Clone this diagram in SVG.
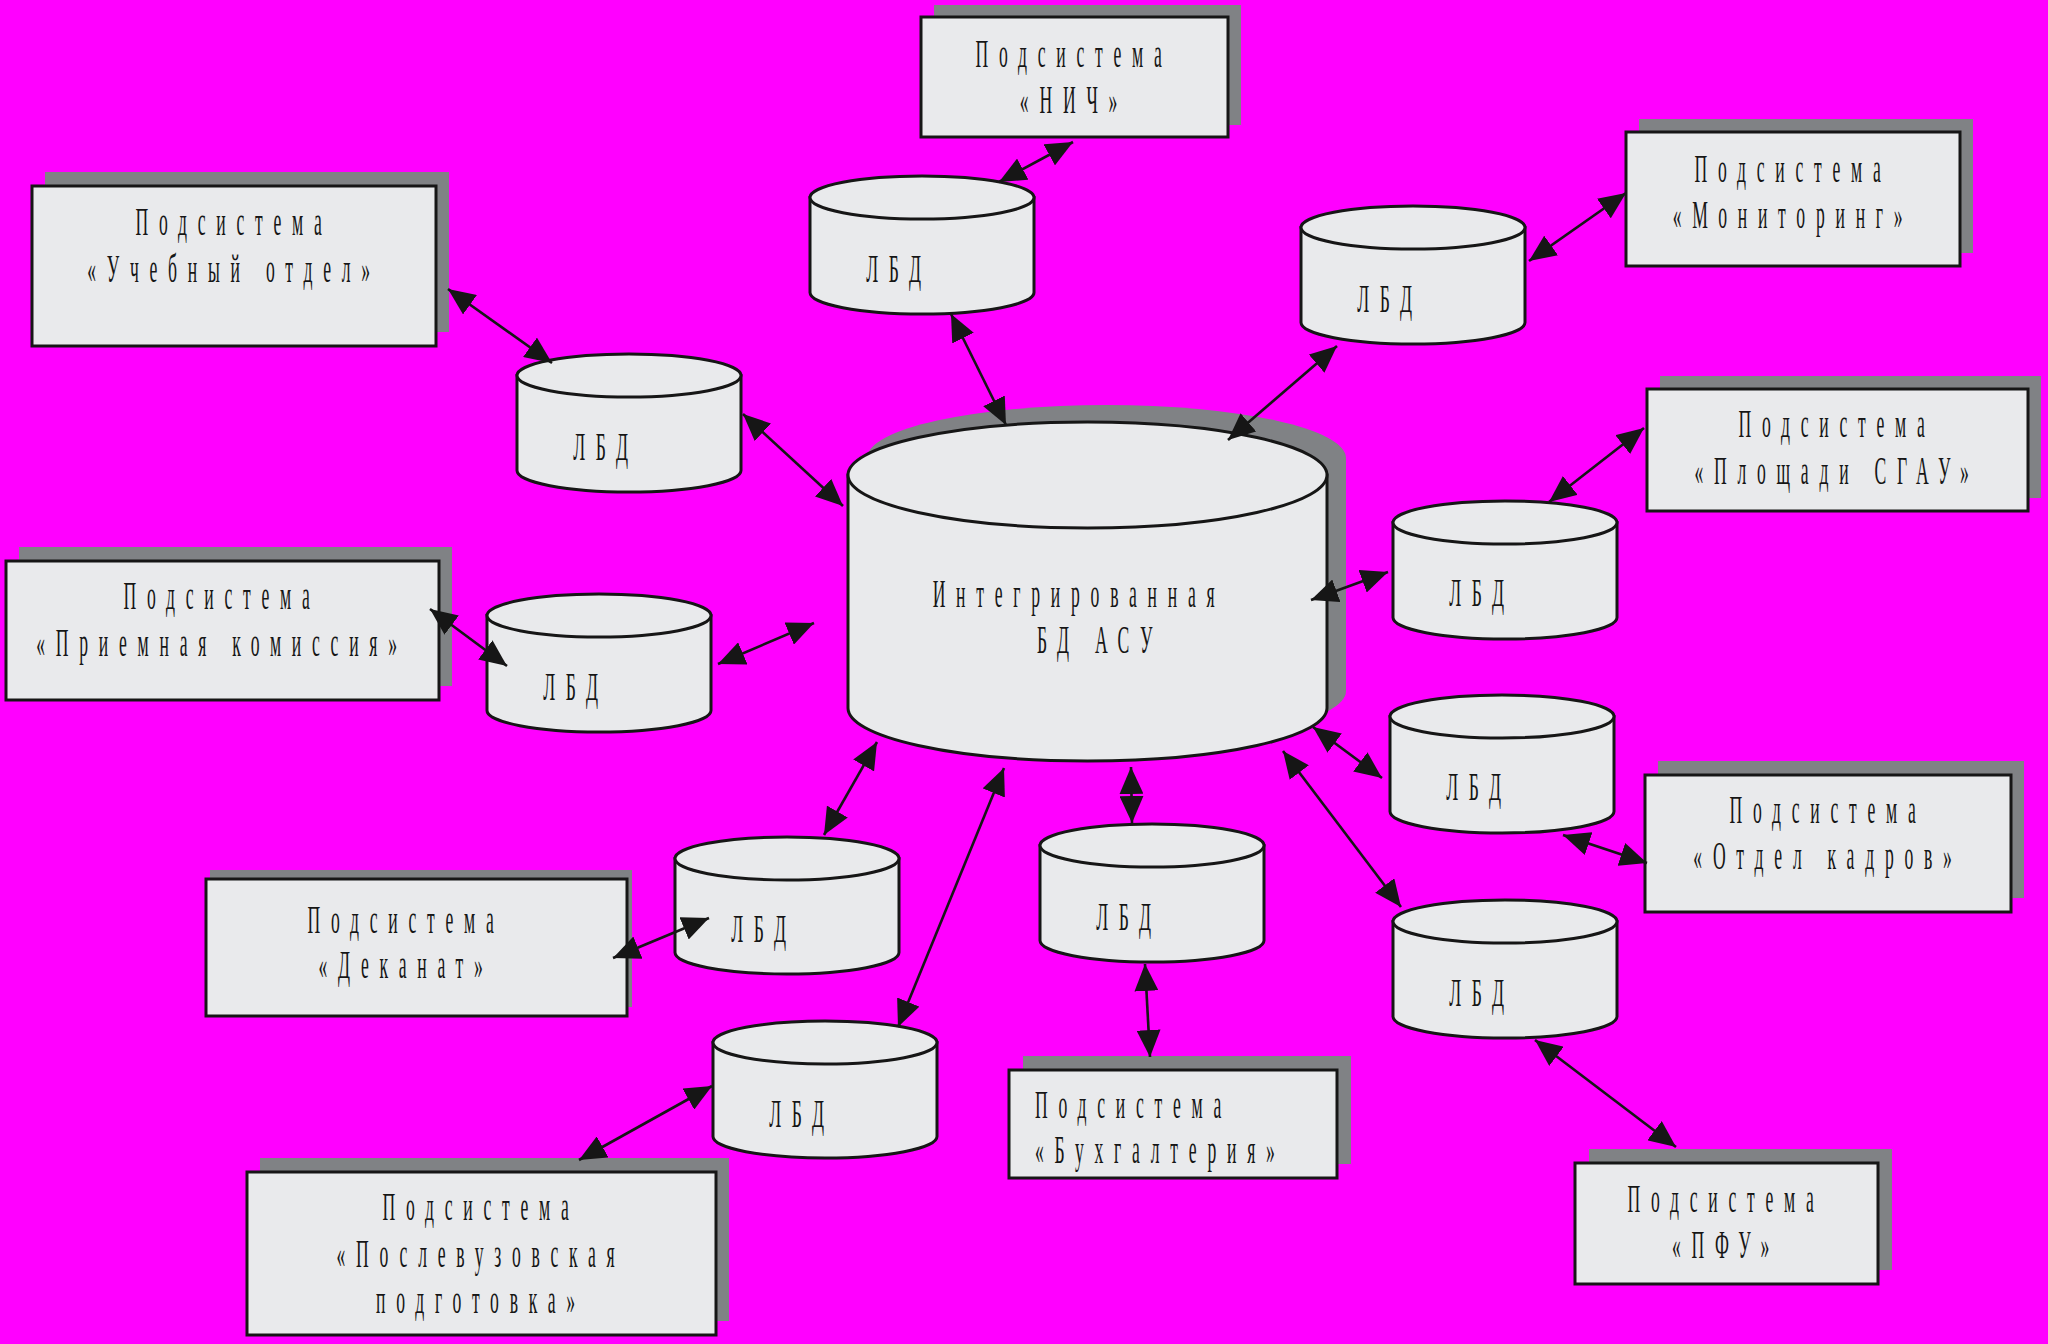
<svg xmlns="http://www.w3.org/2000/svg" width="2048" height="1344" viewBox="0 0 2048 1344">
<style>
.bg{fill:#FF00FF}
.sh{fill:#808285;stroke:none}
.bx{fill:#E9EAEC;stroke:#161616;stroke-width:3}
.cy{fill:#E9EAEC;stroke:#161616;stroke-width:3}
.t{font-family:"Liberation Serif","DejaVu Serif",serif;font-size:41px;letter-spacing:25px;fill:#161616;text-anchor:middle}
.ts{text-anchor:start}
.ln{stroke:#161616;stroke-width:2.6;fill:none;marker-start:url(#ah);marker-end:url(#ah)}
</style>
<defs>
<marker id="ah" viewBox="0 0 27 24" refX="27" refY="12" markerWidth="27" markerHeight="24" markerUnits="userSpaceOnUse" orient="auto-start-reverse">
<path d="M0,0 L27,12 L0,24 Z" fill="#161616"/>
</marker>
</defs>
<rect class="bg" x="0" y="0" width="2048" height="1344"/>

<g id="central">
<path class="sh" d="M867,458 V691 A239.5,53 0 0 0 1346,691 V458 A239.5,53 0 0 0 867,458 Z"/>
<path class="cy" d="M848,475 V708 A239.5,53 0 0 0 1327,708 V475 Z"/>
<ellipse class="cy" cx="1087.5" cy="475" rx="239.5" ry="53"/>
<text class="t" transform="translate(1079,607) scale(0.43,1)">Интегрированная</text>
<text class="t" transform="translate(1100,653) scale(0.43,1)">БД АСУ</text>
</g>

<g id="cyl-a">
<path class="cy" d="M810,197.5 V292.5 A112,21.5 0 0 0 1034,292.5 V197.5 Z"/>
<ellipse class="cy" cx="922" cy="197.5" rx="112" ry="21.5"/>
<text class="t" transform="translate(899,282) scale(0.43,1)">ЛБД</text>
</g>
<g id="cyl-b">
<path class="cy" d="M517,375.5 V470.5 A112,21.5 0 0 0 741,470.5 V375.5 Z"/>
<ellipse class="cy" cx="629" cy="375.5" rx="112" ry="21.5"/>
<text class="t" transform="translate(606,460) scale(0.43,1)">ЛБД</text>
</g>
<g id="cyl-c">
<path class="cy" d="M1301,227.5 V322.5 A112,21.5 0 0 0 1525,322.5 V227.5 Z"/>
<ellipse class="cy" cx="1413" cy="227.5" rx="112" ry="21.5"/>
<text class="t" transform="translate(1390,312) scale(0.43,1)">ЛБД</text>
</g>
<g id="cyl-d">
<path class="cy" d="M1393,522.5 V617.5 A112,21.5 0 0 0 1617,617.5 V522.5 Z"/>
<ellipse class="cy" cx="1505" cy="522.5" rx="112" ry="21.5"/>
<text class="t" transform="translate(1482,606) scale(0.43,1)">ЛБД</text>
</g>
<g id="cyl-e">
<path class="cy" d="M487,615.5 V710.5 A112,21.5 0 0 0 711,710.5 V615.5 Z"/>
<ellipse class="cy" cx="599" cy="615.5" rx="112" ry="21.5"/>
<text class="t" transform="translate(576,700) scale(0.43,1)">ЛБД</text>
</g>
<g id="cyl-f">
<path class="cy" d="M1390,716.5 V811.5 A112,21.5 0 0 0 1614,811.5 V716.5 Z"/>
<ellipse class="cy" cx="1502" cy="716.5" rx="112" ry="21.5"/>
<text class="t" transform="translate(1479,800) scale(0.43,1)">ЛБД</text>
</g>
<g id="cyl-g">
<path class="cy" d="M675,858.5 V952.5 A112,21.5 0 0 0 899,952.5 V858.5 Z"/>
<ellipse class="cy" cx="787" cy="858.5" rx="112" ry="21.5"/>
<text class="t" transform="translate(764,942) scale(0.43,1)">ЛБД</text>
</g>
<g id="cyl-h">
<path class="cy" d="M1040,845.5 V940.5 A112,21.5 0 0 0 1264,940.5 V845.5 Z"/>
<ellipse class="cy" cx="1152" cy="845.5" rx="112" ry="21.5"/>
<text class="t" transform="translate(1129,930) scale(0.43,1)">ЛБД</text>
</g>
<g id="cyl-i">
<path class="cy" d="M1393,921.5 V1016.5 A112,21.5 0 0 0 1617,1016.5 V921.5 Z"/>
<ellipse class="cy" cx="1505" cy="921.5" rx="112" ry="21.5"/>
<text class="t" transform="translate(1482,1006) scale(0.43,1)">ЛБД</text>
</g>
<g id="cyl-j">
<path class="cy" d="M713,1042.5 V1136.5 A112,21.5 0 0 0 937,1136.5 V1042.5 Z"/>
<ellipse class="cy" cx="825" cy="1042.5" rx="112" ry="21.5"/>
<text class="t" transform="translate(802,1127) scale(0.43,1)">ЛБД</text>
</g>

<g id="box-nich">
<rect class="sh" x="934" y="5" width="307" height="120"/>
<rect class="bx" x="921" y="17" width="307" height="120"/>
<text class="t" transform="translate(1074,67) scale(0.43,1)">Подсистема</text>
<text class="t" transform="translate(1074,113) scale(0.43,1)">«НИЧ»</text>
</g>
<g id="box-ucheb">
<rect class="sh" x="45" y="172" width="404" height="160"/>
<rect class="bx" x="32" y="186" width="404" height="160"/>
<text class="t" transform="translate(234,235) scale(0.43,1)">Подсистема</text>
<text class="t" transform="translate(234,282) scale(0.43,1)">«Учебный отдел»</text>
</g>
<g id="box-monit">
<rect class="sh" x="1639" y="119" width="334" height="134"/>
<rect class="bx" x="1626" y="132" width="334" height="134"/>
<text class="t" transform="translate(1793,182) scale(0.43,1)">Подсистема</text>
<text class="t" transform="translate(1793,228) scale(0.43,1)">«Мониторинг»</text>
</g>
<g id="box-plosh">
<rect class="sh" x="1660" y="376" width="381" height="122"/>
<rect class="bx" x="1647" y="389" width="381" height="122"/>
<text class="t" transform="translate(1837,437) scale(0.43,1)">Подсистема</text>
<text class="t" transform="translate(1837,484) scale(0.43,1)">«Площади СГАУ»</text>
</g>
<g id="box-priem">
<rect class="sh" x="19" y="547" width="433" height="139"/>
<rect class="bx" x="6" y="561" width="433" height="139"/>
<text class="t" transform="translate(222,609) scale(0.43,1)">Подсистема</text>
<text class="t" transform="translate(222,656) scale(0.43,1)">«Приемная комиссия»</text>
</g>
<g id="box-kadr">
<rect class="sh" x="1658" y="761" width="366" height="137"/>
<rect class="bx" x="1645" y="775" width="366" height="137"/>
<text class="t" transform="translate(1828,823) scale(0.43,1)">Подсистема</text>
<text class="t" transform="translate(1828,869) scale(0.43,1)">«Отдел кадров»</text>
</g>
<g id="box-dekan">
<rect class="sh" x="210" y="870" width="422" height="137"/>
<rect class="bx" x="206" y="879" width="421" height="137"/>
<text class="t" transform="translate(406,933) scale(0.43,1)">Подсистема</text>
<text class="t" transform="translate(406,978) scale(0.43,1)">«Деканат»</text>
</g>
<g id="box-buh">
<rect class="sh" x="1023" y="1056" width="328" height="108"/>
<rect class="bx" x="1009" y="1070" width="328" height="108"/>
<text class="t ts" transform="translate(1035,1118) scale(0.43,1)">Подсистема</text>
<text class="t ts" transform="translate(1035,1163) scale(0.43,1)">«Бухгалтерия»</text>
</g>
<g id="box-pfu">
<rect class="sh" x="1589" y="1149" width="303" height="121"/>
<rect class="bx" x="1575" y="1163" width="303" height="121"/>
<text class="t" transform="translate(1726,1212) scale(0.43,1)">Подсистема</text>
<text class="t" transform="translate(1726,1258) scale(0.43,1)">«ПФУ»</text>
</g>
<g id="box-posl">
<rect class="sh" x="260" y="1158" width="469" height="163"/>
<rect class="bx" x="247" y="1172" width="469" height="163"/>
<text class="t" transform="translate(481,1220) scale(0.43,1)">Подсистема</text>
<text class="t" transform="translate(481,1267) scale(0.43,1)">«Послевузовская</text>
<text class="t" transform="translate(481,1313) scale(0.43,1)">подготовка»</text>
</g>

<g id="connectors">
<line class="ln" x1="1073" y1="142" x2="999" y2="182"/>
<line class="ln" x1="951" y1="314" x2="1006" y2="425"/>
<line class="ln" x1="448" y1="289" x2="552" y2="363"/>
<line class="ln" x1="743" y1="414" x2="843" y2="506"/>
<line class="ln" x1="1626" y1="193" x2="1529" y2="261"/>
<line class="ln" x1="1337" y1="346" x2="1228" y2="440"/>
<line class="ln" x1="1644" y1="428" x2="1549" y2="502"/>
<line class="ln" x1="1388" y1="572" x2="1311" y2="600"/>
<line class="ln" x1="430" y1="609" x2="507" y2="666"/>
<line class="ln" x1="718" y1="664" x2="814" y2="623"/>
<line class="ln" x1="1313" y1="727" x2="1382" y2="778"/>
<line class="ln" x1="1563" y1="835" x2="1647" y2="863"/>
<line class="ln" x1="877" y1="742" x2="824" y2="835"/>
<line class="ln" x1="613" y1="958" x2="709" y2="918"/>
<line class="ln" x1="1004" y1="768" x2="898" y2="1027"/>
<line class="ln" x1="712" y1="1086" x2="579" y2="1160"/>
<line class="ln" x1="1131" y1="767" x2="1132" y2="823"/>
<line class="ln" x1="1145" y1="964" x2="1150" y2="1057"/>
<line class="ln" x1="1283" y1="751" x2="1401" y2="907"/>
<line class="ln" x1="1535" y1="1040" x2="1676" y2="1147"/>
</g>
</svg>
